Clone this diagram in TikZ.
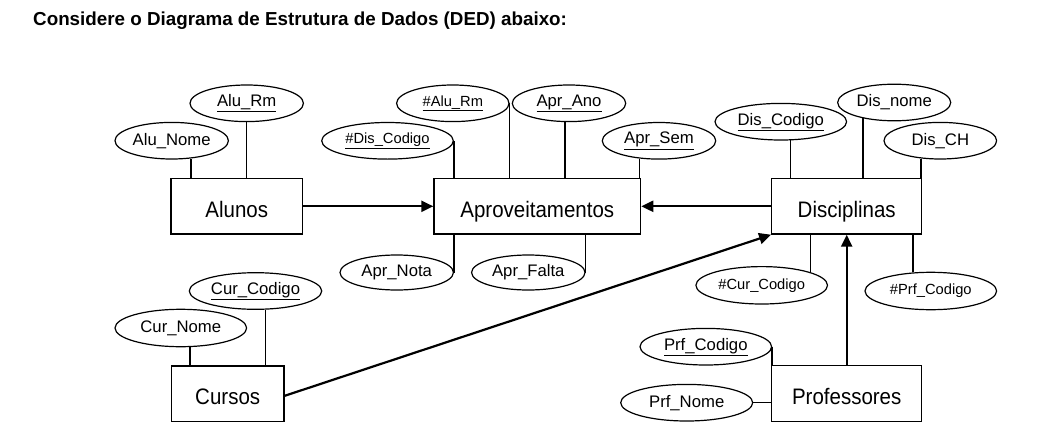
\documentclass[tikz,border=0pt]{standalone}
\usepackage{fontspec}
\setmainfont{Liberation Sans}
\newfontfamily\entfont{Liberation Sans}[FakeStretch=0.915]
\usetikzlibrary{shapes.geometric,arrows.meta}
\begin{document}
\begin{tikzpicture}[x=1pt,y=-1pt,
  entity/.style={draw,line width=1.3pt,minimum width=#1,minimum height=55.5pt,inner sep=0pt,text height=22pt,text depth=0pt,font=\entfont\fontsize{22.4}{26}\selectfont},
  attr/.style={draw,ellipse,line width=1.2pt,minimum width=113.4pt,minimum height=36.6pt,inner sep=0pt,font=\fontsize{16.7}{19}\selectfont},
  wattr/.style={attr,minimum width=131.6pt},
  sattr/.style={font=\fontsize{14.7}{17}\selectfont},
  link/.style={line width=1.5pt},
  rel/.style={line width=2.2pt,-{Triangle[length=12pt,width=11pt]}}]
\useasboundingbox (0,0) rectangle (1057,439);
\node[anchor=base west,inner sep=0pt,font=\bfseries\fontsize{18.8}{22}\selectfont] (title) at (33,25.7) {Considere o Diagrama de Estrutura de Dados (DED) abaixo:};
% entities
\node[entity=131.5pt] (alunos) at (236.8,206.3) {Alunos};
\node[entity=206.7pt] (apr) at (537.3,206.3) {Aproveitamentos};
\node[entity=150pt] (disc) at (846.7,206.3) {Disciplinas};
\node[entity=112.7pt] (cursos) at (227.7,393.8) {Cursos};
\node[entity=150pt] (prof) at (846.7,393.5) {Professores};
% attributes of Alunos
\node[attr] (alunome) at (171.7,140.7) {Alu\_Nome};
\node[attr] (alurm) at (246.7,103.3) {\underline{Alu\_Rm}};
% attributes of Aproveitamentos
\node[attr,sattr,minimum width=112.4pt] (aalurm) at (452.8,103.3) {\raisebox{3pt}{\underline{\#Alu\_Rm}}};
\node[attr] (aprano) at (569,103.3) {\underline{Apr\_Ano}};
\node[wattr,sattr] (adiscod) at (387.5,140.8) {\raisebox{3pt}{\underline{\#Dis\_Codigo}}};
\node[attr] (aprsem) at (659,140.8) {\underline{Apr\_Sem}};
\node[attr,minimum height=35pt] (aprnota) at (396.7,272.5) {Apr\_Nota};
\node[attr,minimum height=35pt] (aprfalta) at (528.3,272.5) {Apr\_Falta};
% attributes of Disciplinas
\node[wattr] (discod) at (780.8,121.7) {\underline{Dis\_Codigo}};
\node[attr,minimum width=113pt] (disnome) at (894.2,102.5) {Dis\_nome};
\node[attr,minimum width=112.6pt] (disch) at (940.3,140.7) {Dis\_CH};
\node[wattr,sattr,minimum height=37.4pt] (dcurcod) at (761.7,285.3) {\#Cur\_Codigo};
\node[wattr,sattr,minimum height=37.4pt] (dprfcod) at (930.8,291) {\#Prf\_Codigo};
% attributes of Cursos
\node[wattr,minimum width=132.4pt] (curcod) at (255.5,291) {\underline{Cur\_Codigo}};
\node[wattr,minimum height=37.4pt] (curnome) at (180.8,328) {Cur\_Nome};
% attributes of Professores
\node[wattr] (prfcod) at (705.8,346.7) {\underline{Prf\_Codigo}};
\node[wattr,minimum width=132pt] (prfnome) at (686.7,402.7) {Prf\_Nome};
% attribute links
\draw[link] (alunome.-43) -- (alunome.-43 |- alunos.north);
\draw[link] (alurm.south) -- (alurm.south |- alunos.north);
\draw[link] (aalurm.east) -- (aalurm.east |- apr.north);
\draw[link] (aprano.-102) -- (aprano.-102 |- apr.north);
\draw[link] (adiscod.east) -- (adiscod.east |- apr.north);
\draw[link] (aprsem.-138) -- (aprsem.-138 |- apr.north);
\draw[link] (aprnota.east) -- (aprnota.east |- apr.south);
\draw[link] (aprfalta.east) -- (aprfalta.east |- apr.south);
\draw[link] (discod.-63) -- (discod.-63 |- disc.north);
\draw[link] (disnome.-153) -- (disnome.-153 |- disc.north);
\draw[link] (disch.-137) -- (disch.-137 |- disc.north);
\draw[link] (dcurcod.15) -- (dcurcod.15 |- disc.south);
\draw[link] (dprfcod.134) -- (dprfcod.134 |- disc.south);
\draw[link] (curcod.-62) -- (curcod.-62 |- cursos.north);
\draw[link] (curnome.-64) -- (curnome.-64 |- cursos.north);
\draw[link] (prfcod.east) -- (prfcod.east |- prof.north);
\draw[link] (prfnome.east) -- (prfnome.east -| prof.west);
% relationships
\draw[rel] (alunos.east) -- (apr.west);
\draw[rel] (disc.west) -- (apr.east);
\draw[rel] ([yshift=-2pt]cursos.east) -- (disc.south west);
\draw[rel] (prof.north) -- (disc.south);
\end{tikzpicture}
\end{document}
